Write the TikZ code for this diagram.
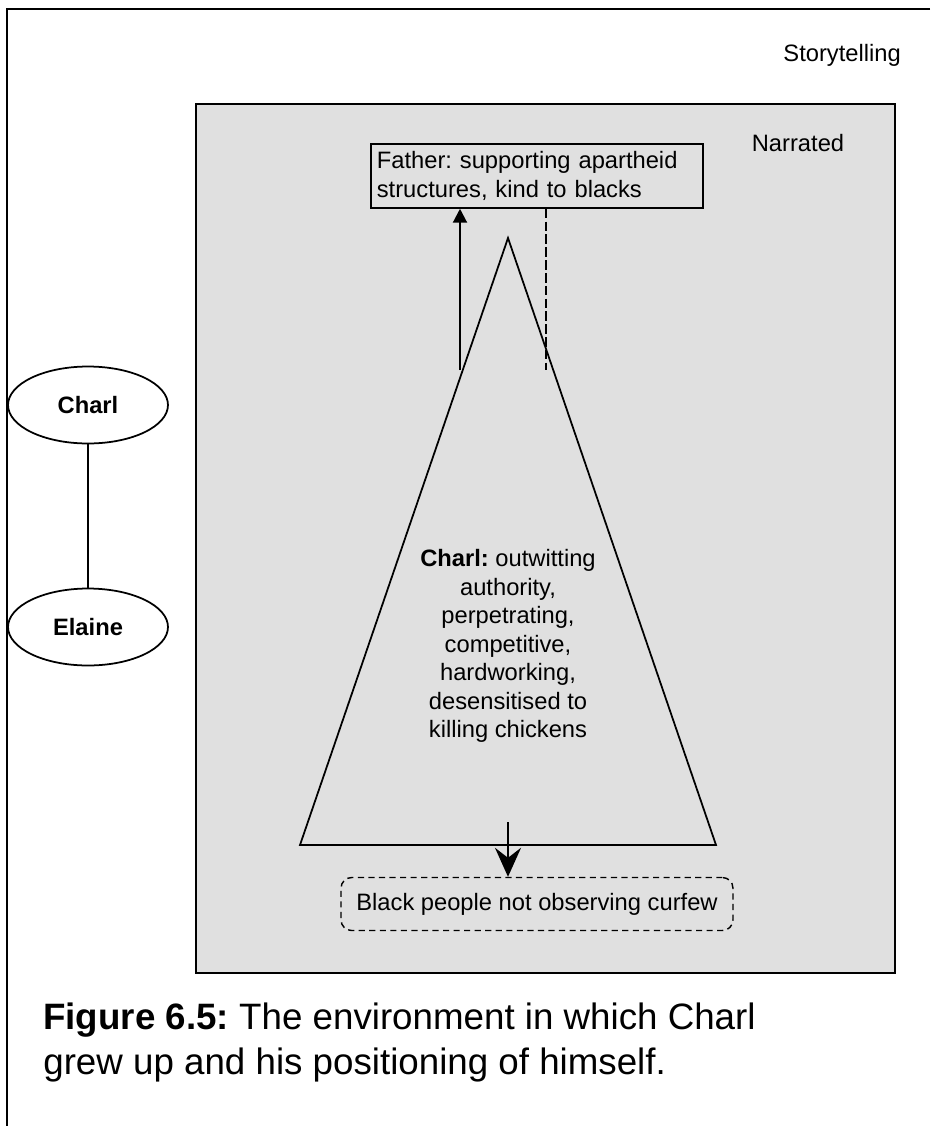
\documentclass[tikz,border=0pt]{standalone}
\usepackage{fontspec}
\setmainfont{Liberation Sans}
\usetikzlibrary{arrows.meta,positioning,shapes.geometric}
\frenchspacing

\tikzset{
  person/.style={draw, ellipse, line width=1pt, minimum width=3.2cm, minimum height=1.54cm, font=\fontsize{13.5}{16.2}\selectfont\bfseries},
  fatherbox/.style={draw, line width=1pt, align=left, text width=6.4cm, inner xsep=0.12cm, minimum height=1.28cm},
  curfewbox/.style={draw, rounded corners=6pt, line width=0.8pt, dash pattern=on 3.5pt off 2.5pt, minimum width=7.84cm, minimum height=1.06cm},
  dashline/.style={line width=0.7pt, dash pattern=on 5.5pt off 1.8pt},
}

\begin{document}
\begin{tikzpicture}[x=0.02cm, y=-0.02cm, font=\fontsize{13.5}{16.2}\selectfont]
\useasboundingbox (0,0) rectangle (930,1126);
% frame and background
\draw[line width=1.2pt] (930,9) -- (7,9) -- (7,1126);
\node[anchor=east] (story) at (907,55) {Storytelling};
\draw[fill=black!12, line width=1.3pt] (196,104) rectangle (895,973);
\node (narr) at (798,143) {Narrated};

% people
\node[person] (charl) at (88,405) {Charl};
\node[person] (elaine) at (88,627) {Elaine};
\draw[line width=1pt] (charl) -- (elaine);

% triangle
\coordinate (apex) at (508,238);
\coordinate (bl) at (300,845);
\coordinate (br) at (716,845);
\draw[line width=1pt] (apex) -- (bl) -- (br) -- cycle;
\node[align=center] (self) at (508,646) {\textbf{Charl:} outwitting\\authority,\\perpetrating,\\competitive,\\hardworking,\\desensitised to\\killing chickens};

% father and curfew
\node[fatherbox, anchor=north west] (father) at (370,143) {Father: supporting apartheid\\structures, kind to blacks};
\node[curfewbox] (curfew) at (537,904) {Black people not observing curfew};

\coordinate (upstart) at (460,370);
\draw[line width=1.2pt, -{Triangle[length=0.28cm, width=0.28cm]}] (upstart) -- (upstart |- father.south);
\coordinate (dashend) at (546,370);
\draw[dashline] (dashend |- father.south) -- (dashend);
\coordinate (downstart) at (508,822);
\draw[line width=1.2pt, -{Stealth[length=0.58cm, width=0.52cm, inset=0.2cm]}] (downstart) -- (downstart |- curfew.north);

% caption
\node[anchor=north west, inner sep=0pt, align=left, font=\fontsize{20.9}{25.5}\selectfont] (caption) at (43,1003) {\textbf{Figure 6.5:} The environment in which Charl\\grew up and his positioning of himself.};
\end{tikzpicture}
\end{document}
